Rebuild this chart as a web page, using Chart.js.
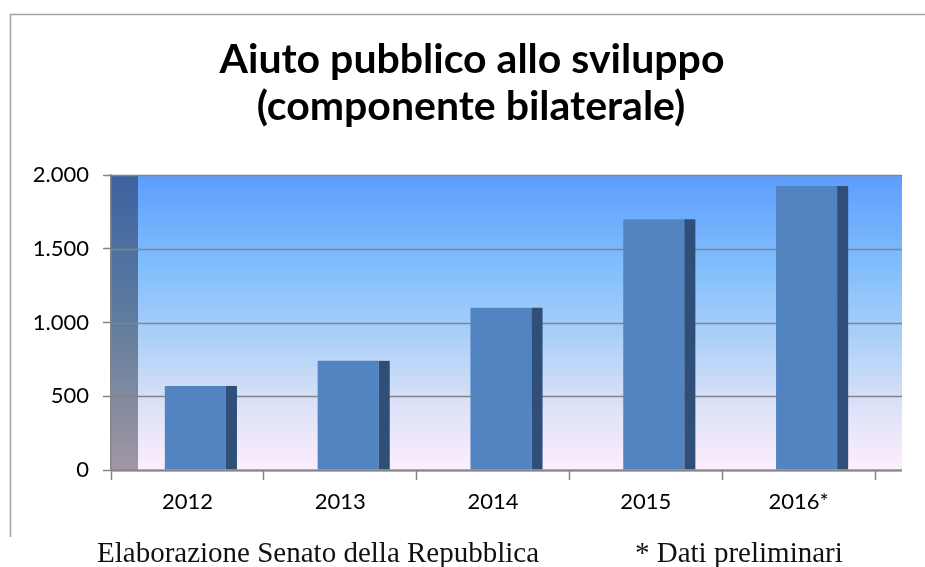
<!DOCTYPE html>
<html lang="it">
<head>
<meta charset="utf-8">
<title>Aiuto pubblico allo sviluppo</title>
<script src="https://cdn.jsdelivr.net/npm/chart.js@4.4.1/dist/chart.umd.min.js"></script>
<style>
  html, body { margin: 0; padding: 0; background: #fff; }
  #chart { display: block; }
</style>
</head>
<body>
<canvas id="chart" width="925" height="567"></canvas>
<script>
// milioni di euro, componente bilaterale
const years = ['2012', '2013', '2014', '2015', '2016*'];
const aidValues = [570, 740, 1100, 1700, 1925];
const yTicks = [0, 500, 1000, 1500, 2000];

const titleLines = ['Aiuto pubblico allo sviluppo', '(componente bilaterale)'];
const sourceNote = 'Elaborazione Senato della Repubblica';
const prelimNote = '* Dati preliminari';

const DEPTH = 27;  // offset of the back wall
const SHIFT = 8;   // bars sit a bit behind the front axis
const SIDE = 11;   // visible side face of each bar
const GRID = '#858585';

function formatThousands(v) {
    return String(v).replace(/\B(?=(\d{3})+(?!\d))/g, '.');
}

const pseudo3d = {
    id: 'pseudo3d',
    beforeDraw(chart) {
        const { ctx, chartArea: a, scales: { y } } = chart;
        const h = a.bottom - a.top;

        ctx.save();
        // back wall
        let g = ctx.createLinearGradient(0, a.top, 0, a.bottom);
        g.addColorStop(0, '#5d9dfe');
        g.addColorStop(0.3, '#80bdfd');
        g.addColorStop(0.55, '#abd0f7');
        g.addColorStop(0.8, '#dfe3f8');
        g.addColorStop(1, '#fdeefd');
        ctx.fillStyle = g;
        ctx.fillRect(a.left + DEPTH, a.top, a.right - a.left, h);

        // side wall
        g = ctx.createLinearGradient(0, a.top, 0, a.bottom);
        g.addColorStop(0, '#3c63a1');
        g.addColorStop(0.5, '#5f7d9e');
        g.addColorStop(1, '#a197a3');
        ctx.fillStyle = g;
        ctx.fillRect(a.left, a.top, DEPTH, h);

        // horizontal gridlines
        ctx.strokeStyle = GRID;
        ctx.lineWidth = 1.5;
        y.ticks.forEach(t => {
            const py = Math.round(y.getPixelForValue(t.value)) + 0.5;
            ctx.beginPath();
            ctx.moveTo(a.left, py);
            ctx.lineTo(a.right + DEPTH, py);
            ctx.stroke();
        });

        // chart frame
        ctx.strokeStyle = '#a3a3a3';
        ctx.lineWidth = 1.5;
        ctx.beginPath();
        ctx.moveTo(10.5, 537);
        ctx.lineTo(10.5, 14.5);
        ctx.lineTo(925, 14.5);
        ctx.stroke();
        ctx.restore();
    },
    beforeDatasetsDraw(chart) {
        chart.ctx.save();
        chart.ctx.translate(SHIFT, 0);
    },
    afterDatasetsDraw(chart) {
        const { ctx, chartArea: a } = chart;
        ctx.fillStyle = '#2f4f79';
        chart.getDatasetMeta(0).data.forEach(bar => {
            ctx.fillRect(bar.x + bar.width / 2, bar.y, SIDE, bar.base - bar.y);
        });
        ctx.restore();

        // floor edge
        ctx.save();
        ctx.strokeStyle = GRID;
        ctx.lineWidth = 2;
        ctx.beginPath();
        ctx.moveTo(a.left, a.bottom + 0.5);
        ctx.lineTo(a.right + DEPTH, a.bottom + 0.5);
        ctx.stroke();
        ctx.restore();
    },
    afterDraw(chart) {
        const ctx = chart.ctx;
        ctx.save();
        ctx.fillStyle = '#000';
        ctx.textAlign = 'center';
        ctx.textBaseline = 'alphabetic';
        ctx.font = 'bold 41px Lato';
        ctx.fillText(titleLines[0], 472, 73);
        ctx.fillText(titleLines[1], 471, 120);

        ctx.textAlign = 'left';
        ctx.font = '29px "Liberation Serif"';
        ctx.fillStyle = '#111';
        ctx.fillText(sourceNote, 97, 562);
        ctx.fillText(prelimNote, 635, 562);
        ctx.restore();
    }
};

Chart.defaults.font.family = 'Lato';
Chart.defaults.color = '#000';

new Chart(document.getElementById('chart'), {
    type: 'bar',
    data: {
        labels: years,
        datasets: [{
            label: 'Aiuto pubblico allo sviluppo',
            data: aidValues,
            backgroundColor: '#5384c2',
            borderWidth: 0,
            categoryPercentage: 1,
            barPercentage: 0.4
        }]
    },
    options: {
        responsive: false,
        animation: false,
        layout: { padding: { top: 175, right: 50, bottom: 0, left: 0 } },
        plugins: {
            legend: { display: false },
            title: { display: false },
            tooltip: { enabled: false }
        },
        scales: {
            x: {
                afterFit(scale) { scale.height = 97; },
                grid: {
                    offset: true,
                    drawOnChartArea: false,
                    tickLength: 10,
                    tickWidth: 1.5,
                    tickColor: GRID
                },
                border: { display: false },
                ticks: { font: { size: 22 }, padding: 9, maxRotation: 0 }
            },
            y: {
                min: 0,
                max: 2000,
                afterFit(scale) { scale.width = 111; },
                afterBuildTicks(scale) { scale.ticks = yTicks.map(v => ({ value: v })); },
                grid: {
                    drawOnChartArea: false,
                    tickLength: 8,
                    tickWidth: 1.5,
                    tickColor: GRID
                },
                border: { display: true, color: GRID, width: 1.5 },
                ticks: {
                    font: { size: 22 },
                    padding: 14,
                    callback: v => formatThousands(v)
                }
            }
        }
    },
    plugins: [pseudo3d]
});
</script>
</body>
</html>
